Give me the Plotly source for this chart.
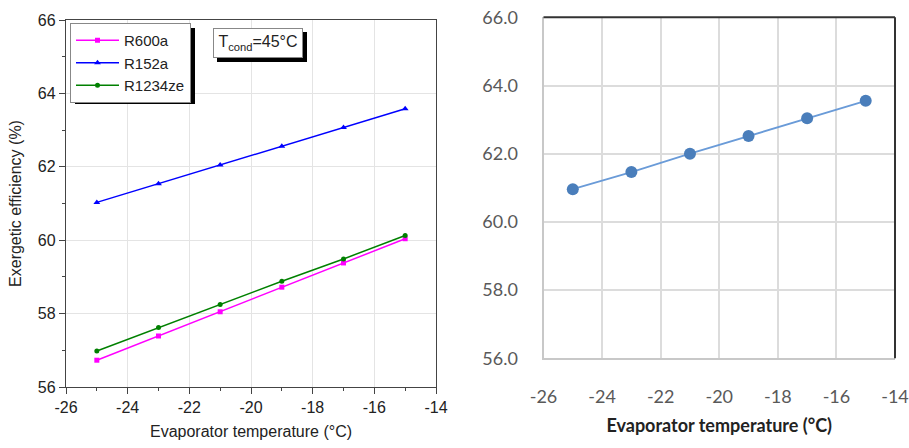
import plotly.graph_objects as go

# ---------------- data ----------------
evap_temp = [-25, -23, -21, -19, -17, -15]
r600a = [56.73, 57.39, 58.05, 58.72, 59.38, 60.04]
r152a = [61.03, 61.54, 62.05, 62.56, 63.07, 63.58]
r1234ze = [56.98, 57.62, 58.25, 58.88, 59.49, 60.13]
right_vals = [60.96, 61.46, 62.00, 62.52, 63.04, 63.55]

x_ticks = [-26, -24, -22, -20, -18, -16, -14]
x_tick_labels = ["-26", "-24", "-22", "-20", "-18", "-16", "-14"]
y_ticks_left = [56, 58, 60, 62, 64, 66]
y_ticks_right = [56.0, 58.0, 60.0, 62.0, 64.0, 66.0]

W, H = 909, 448


def px(x):
    return x / W


def py(y):
    return 1 - y / H


fig = go.Figure()

fig.add_trace(go.Scatter(x=evap_temp, y=r600a, name="R600a", mode="lines+markers",
                         line=dict(color="#ff00ff", width=1.5),
                         marker=dict(symbol="square", size=5, color="#ff00ff"),
                         xaxis="x", yaxis="y"))
fig.add_trace(go.Scatter(x=evap_temp, y=r152a, name="R152a", mode="lines+markers",
                         line=dict(color="#0000ff", width=1.5),
                         marker=dict(symbol="triangle-up", size=6, color="#0000ff"),
                         xaxis="x", yaxis="y"))
fig.add_trace(go.Scatter(x=evap_temp, y=r1234ze, name="R1234ze", mode="lines+markers",
                         line=dict(color="#008000", width=1.5),
                         marker=dict(symbol="circle", size=5, color="#008000"),
                         xaxis="x", yaxis="y"))
fig.add_trace(go.Scatter(x=evap_temp, y=right_vals, name="right", mode="lines+markers",
                         showlegend=False,
                         line=dict(color="#6a9bd8", width=1.8),
                         marker=dict(symbol="circle", size=12, color="#4a7ebb"),
                         xaxis="x2", yaxis="y2"))

left_font = dict(family="Liberation Sans, Arial", size=16, color="#222")
right_font = dict(family="Lato", size=18, color="#595959")

fig.update_layout(
    template="none",
    width=W, height=H,
    margin=dict(l=0, r=0, t=0, b=0, autoexpand=False),
    paper_bgcolor="white", plot_bgcolor="white",
    xaxis=dict(domain=[px(66), px(436)], range=[-26, -14],
               tickvals=x_ticks, ticktext=x_tick_labels,
               automargin=False, ticklabeloverflow="allow",
               showline=True, mirror=True, linecolor="#444", linewidth=1.3,
               ticks="outside", ticklen=6, tickcolor="#444",
               minor=dict(ticks="outside", ticklen=3, dtick=1, tickcolor="#444", showgrid=False),
               showgrid=True, gridcolor="#e4e4e4", gridwidth=1, zeroline=False,
               tickfont=left_font,
               title=dict(text="Evaporator temperature (°C)", font=left_font, standoff=10)),
    yaxis=dict(domain=[py(387), py(20)], range=[56, 66], tickvals=y_ticks_left,
               automargin=False,
               showline=True, mirror=True, linecolor="#444", linewidth=1.3,
               ticks="outside", ticklen=6, tickcolor="#444",
               minor=dict(ticks="outside", ticklen=3, dtick=1, tickcolor="#444", showgrid=False),
               showgrid=True, gridcolor="#e4e4e4", gridwidth=1, zeroline=False,
               tickfont=left_font,
               title=dict(text="Exergetic efficiency (%)", font=left_font, standoff=12)),
    xaxis2=dict(domain=[px(543.5), px(895)], range=[-26, -14],
                tickvals=x_ticks, ticktext=x_tick_labels,
                anchor="y2", automargin=False, ticklabeloverflow="allow",
                showline=True, linecolor="#c8c8c8", linewidth=2,
                ticks="", showgrid=True, gridcolor="#dcdcdc", gridwidth=1.5, zeroline=False,
                tickfont=right_font, ticklabelstandoff=21,
                title=dict(text="<b>Evaporator temperature (°C)</b>",
                           font=dict(family="Lato", size=18, color="#222"), standoff=13)),
    yaxis2=dict(domain=[py(358.3), py(17.3)], range=[56, 66], tickvals=y_ticks_right,
                anchor="x2", tickformat=".1f", automargin=False,
                showline=True, linecolor="#c8c8c8", linewidth=2,
                ticks="", showgrid=True, gridcolor="#dcdcdc", gridwidth=1.5, zeroline=False,
                tickfont=right_font, ticklabelstandoff=20),
    legend=dict(x=px(70), y=py(23), xanchor="left", yanchor="top",
                bgcolor="white", bordercolor="#888", borderwidth=1,
                font=dict(family="Liberation Sans, Arial", size=15, color="#222"),
                tracegroupgap=0, itemwidth=43),
    showlegend=True,
)

shapes = []
# legend shadow
shapes.append(dict(type="rect", xref="paper", yref="paper",
                   x0=px(75), x1=px(195), y0=py(104), y1=py(28),
                   fillcolor="black", line=dict(width=0), layer="above"))
# Tcond box shadow
shapes.append(dict(type="rect", xref="paper", yref="paper",
                   x0=px(217), x1=px(307), y0=py(62), y1=py(32),
                   fillcolor="black", line=dict(width=0), layer="above"))
# right plot dark top/right border
shapes.append(dict(type="line", xref="paper", yref="paper",
                   x0=px(543.5), x1=px(895), y0=py(17.3), y1=py(17.3),
                   line=dict(width=2, color="#333"), layer="above"))
shapes.append(dict(type="line", xref="paper", yref="paper",
                   x0=px(895), x1=px(895), y0=py(17.3), y1=py(358.3),
                   line=dict(width=2, color="#333"), layer="above"))
fig.update_layout(shapes=shapes)

fig.add_annotation(x=px(213), y=py(28), xref="paper", yref="paper",
                   xanchor="left", yanchor="top",
                   width=88, height=28,
                   text="T<sub>cond</sub>=45°C", showarrow=False,
                   bgcolor="white", bordercolor="#888", borderwidth=1, borderpad=0,
                   font=dict(family="Liberation Sans, Arial", size=16, color="#222"))

fig.write_html("out.html")
